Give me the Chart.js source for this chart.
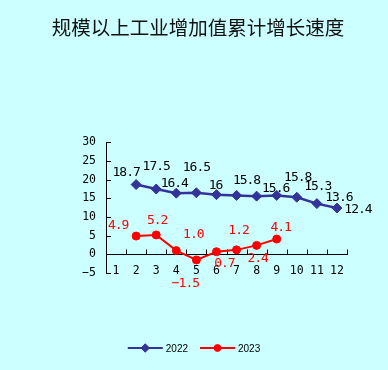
<!DOCTYPE html>
<html>
<head>
<meta charset="utf-8">
<script src="https://cdn.jsdelivr.net/npm/chart.js@4/dist/chart.umd.min.js"></script>
<style>
  html, body { margin: 0; padding: 0; background: #ccffff; }
</style>
</head>
<body>
<canvas id="chart" width="388" height="370"></canvas>
<script>
// 月份
const months = ["1", "2", "3", "4", "5", "6", "7", "8", "9", "10", "11", "12"];
// 累计增长速度 (%)
const growth2022 = [null, 18.7, 17.5, 16.4, 16.5, 16, 15.8, 15.6, 15.8, 15.3, 13.6, 12.4];
const growth2023 = [null, 4.9, 5.2, 1.0, -1.5, 0.7, 1.2, 2.4, 4.1, null, null, null];
const seriesNames = ["2022", "2023"];

// 数据标签的偏移 [dx, dy]
const labelShift2022 = [[0, 0], [-10, -12], [0, -22], [-2, -10], [0, -25], [-1, -9], [10, -15], [19, -8], [21, -18], [21, -11], [22, -6], [21, 2]];
const labelShift2023 = [[0, 0], [-18, -10], [1, -14], [17, -16], [-11, 24], [8, 12], [2, -19], [1, 13], [4, -11], [0, 0], [0, 0], [0, 0]];

const minus = s => s.replace("-", "\u2212");

// 轴内侧刻度线
const innerTicks = {
    id: "innerTicks",
    beforeDatasetsDraw(chart) {
        const { ctx, scales: { x, y } } = chart;
        ctx.save();
        ctx.strokeStyle = "#000";
        ctx.lineWidth = 1;
        ctx.beginPath();
        for (let i = 0; i < y.ticks.length; i++) {
            const py = Math.round(y.getPixelForTick(i)) + 0.5;
            ctx.moveTo(x.left, py);
            ctx.lineTo(x.left + 5, py);
        }
        const y0 = Math.round(y.getPixelForValue(0)) + 0.5;
        for (let i = 0; i < months.length; i++) {
            const px = Math.round(x.getPixelForValue(i + 0.5)) + 0.5;
            ctx.moveTo(px, y0);
            ctx.lineTo(px, y0 - 5);
        }
        ctx.stroke();
        ctx.restore();
    }
};

// 数据标签
const pointLabels = {
    id: "pointLabels",
    afterDatasetsDraw(chart) {
        const ctx = chart.ctx;
        ctx.save();
        ctx.font = '13px "DejaVu Sans Mono"';
        ctx.letterSpacing = "-1px";
        ctx.textAlign = "center";
        ctx.textBaseline = "middle";
        chart.data.datasets.forEach((ds, di) => {
            const meta = chart.getDatasetMeta(di);
            ctx.fillStyle = ds.labelColor;
            meta.data.forEach((pt, i) => {
                const v = ds.data[i];
                if (v === null) return;
                const text = minus(di === 0 ? String(v) : v.toFixed(1));
                const s = ds.labelShift[i];
                ctx.fillText(text, pt.x + s[0], pt.y + s[1]);
            });
        });
        ctx.restore();
    }
};

// 图例 (线 + 标记)
const lineLegend = {
    id: "lineLegend",
    afterDraw(chart) {
        const ctx = chart.ctx;
        ctx.save();
        ctx.font = '10px "Liberation Sans"';
        ctx.textBaseline = "middle";
        const lineLen = 35, gap = 3, itemGap = 12;
        const widths = chart.data.datasets.map(ds => lineLen + gap + ctx.measureText(ds.label).width);
        const total = widths.reduce((a, b) => a + b, 0) + itemGap * (widths.length - 1);
        let x = chart.width / 2 - total / 2;
        const y = 348;
        chart.data.datasets.forEach((ds, di) => {
            ctx.strokeStyle = ds.borderColor;
            ctx.lineWidth = 2;
            ctx.beginPath();
            ctx.moveTo(x, y);
            ctx.lineTo(x + lineLen, y);
            ctx.stroke();
            ctx.fillStyle = ds.borderColor;
            ctx.lineWidth = 1;
            Chart.helpers.drawPoint(ctx, {
                pointStyle: ds.pointStyle,
                radius: ds.pointRadius * 0.85,
                borderWidth: 1
            }, x + lineLen / 2, y);
            ctx.fillStyle = "#000";
            ctx.fillText(ds.label, x + lineLen + gap, y + 1);
            x += widths[di] + itemGap;
        });
        ctx.restore();
    }
};

const ctx = document.getElementById("chart").getContext("2d");
new Chart(ctx, {
    type: "line",
    data: {
        labels: months,
        datasets: [{
            label: seriesNames[0],
            data: growth2022,
            borderColor: "#333399",
            backgroundColor: "#333399",
            borderWidth: 2.5,
            pointStyle: "rectRot",
            pointRadius: 5,
            pointBorderWidth: 1,
            labelColor: "#000",
            labelShift: labelShift2022
        }, {
            label: seriesNames[1],
            data: growth2023,
            borderColor: "#ff0000",
            backgroundColor: "#ff0000",
            borderWidth: 2,
            pointStyle: "circle",
            pointRadius: 4,
            pointBorderWidth: 1,
            labelColor: "#ff0000",
            labelShift: labelShift2023
        }]
    },
    options: {
        responsive: false,
        animation: false,
        layout: { padding: { left: 49, right: 41, top: 0, bottom: 97 } },
        plugins: {
            legend: { display: false },
            tooltip: { enabled: false },
            title: {
                display: true,
                text: "规模以上工业增加值累计增长速度",
                color: "#111",
                font: { family: '"Noto Sans CJK SC"', size: 19.5, weight: "normal" },
                padding: { top: 16, bottom: 103 }
            }
        },
        scales: {
            x: {
                position: { y: 0 },
                offset: true,
                grid: { display: true, drawOnChartArea: false, drawTicks: false, offset: true },
                border: { color: "#000", width: 1 },
                ticks: {
                    color: "#000",
                    padding: 10,
                    maxRotation: 0,
                    font: { family: '"DejaVu Sans Mono"', size: 11.5 }
                }
            },
            y: {
                min: -5,
                max: 30,
                grid: { display: true, drawOnChartArea: false, drawTicks: false },
                border: { color: "#000", width: 1 },
                afterFit(scale) { scale.width = 57; },
                ticks: {
                    stepSize: 5,
                    color: "#000",
                    padding: 10,
                    font: { family: '"DejaVu Sans Mono"', size: 11.5 },
                    callback: v => minus(String(v))
                }
            }
        }
    },
    plugins: [innerTicks, pointLabels, lineLegend]
});
</script>
</body>
</html>
